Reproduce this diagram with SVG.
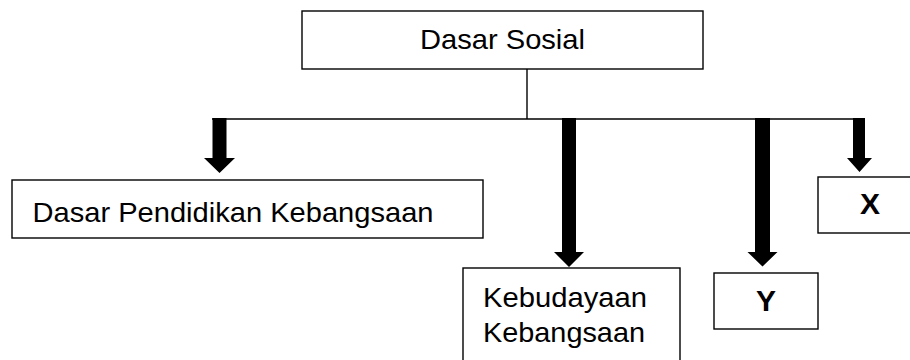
<svg xmlns="http://www.w3.org/2000/svg" width="910" height="360" viewBox="0 0 910 360">
<style>
.box{fill:#fff;stroke:#000;stroke-width:1.4}
.t{font-family:"Liberation Sans",Arial,sans-serif;font-size:28.5px;fill:#000}
.b{font-weight:bold;text-anchor:middle;font-size:30px}
.line{stroke:#000;stroke-width:1.4;fill:none}
.arr{fill:#000}
</style>
<rect width="910" height="360" fill="#fff"/>
<g id="connectors">
<line class="line" x1="527" y1="69" x2="527" y2="119"/>
<line class="line" x1="212" y1="119" x2="865" y2="119"/>
<path class="arr" d="M212.5,118 H226.5 V158 H235 L219.5,173 L204,158 H212.5 Z"/>
<path class="arr" d="M562,118 H576 V252 H584 L569,267 L554,252 H562 Z"/>
<path class="arr" d="M755,118 H770 V252 H777.5 L762.5,266.5 L747.5,252 H755 Z"/>
<path class="arr" d="M853,118 H865 V158 H872 L859.5,172 L847,158 H853 Z"/>
</g>
<g id="node-dasar-sosial">
<rect class="box" x="302" y="11" width="401" height="58"/>
<text class="t" x="420" y="48.5" textLength="165" lengthAdjust="spacingAndGlyphs">Dasar Sosial</text>
</g>
<g id="node-dasar-pendidikan">
<rect class="box" x="12" y="180" width="471" height="58"/>
<text class="t" x="32.5" y="222" textLength="401" lengthAdjust="spacingAndGlyphs">Dasar Pendidikan Kebangsaan</text>
</g>
<g id="node-kebudayaan">
<rect class="box" x="463" y="268" width="217" height="110"/>
<text class="t" x="483" y="307" textLength="164" lengthAdjust="spacingAndGlyphs">Kebudayaan</text>
<text class="t" x="483" y="342" textLength="162" lengthAdjust="spacingAndGlyphs">Kebangsaan</text>
</g>
<g id="node-y">
<rect class="box" x="714" y="273" width="104" height="56"/>
<text class="t b" x="766" y="311">Y</text>
</g>
<g id="node-x">
<rect class="box" x="818" y="177" width="110" height="56"/>
<text class="t b" x="870" y="214">X</text>
</g>
</svg>
